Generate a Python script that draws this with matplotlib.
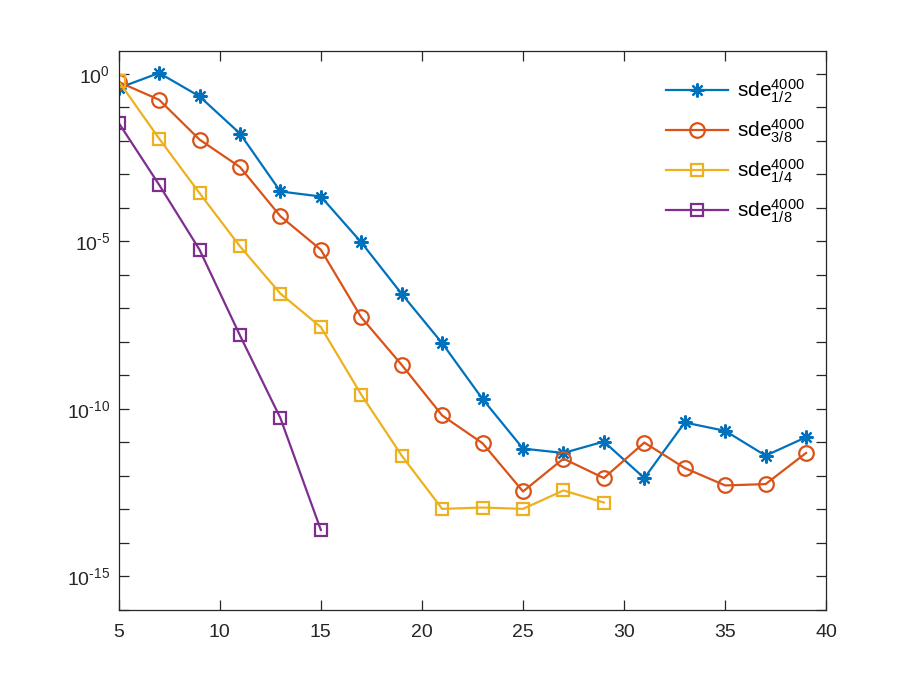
import matplotlib
matplotlib.use('Agg')
import matplotlib.pyplot as plt, numpy as np
from matplotlib.ticker import FixedLocator, NullFormatter

plt.rcParams['font.family'] = ['Liberation Sans', 'DejaVu Sans']
plt.rcParams['mathtext.fontset'] = 'custom'
plt.rcParams['mathtext.rm'] = 'Liberation Sans'
plt.rcParams['mathtext.it'] = 'Liberation Sans'
plt.rcParams['mathtext.default'] = 'regular'

# exponents (log10 of error)
x_half = [5,7,9,11,13,15,17,19,21,23,25,27,29,31,33,35,37,39]
e_half = [-0.42,0.03,-0.67,-1.78,-3.51,-3.66,-5.03,-6.57,-8.04,-9.71,
          -11.19,-11.32,-10.98,-12.07,-10.41,-10.66,-11.40,-10.85]
x_38 = [5,7,9,11,13,15,17,19,21,23,25,27,29,31,33,35,37,39]
e_38 = [-0.24,-0.77,-1.96,-2.78,-4.25,-5.25,-7.27,-8.69,-10.20,-11.03,
        -12.47,-11.49,-12.07,-11.01,-11.77,-12.29,-12.25,-11.32]
x_quarter = [5,7,9,11,13,15,17,19,21,23,25,27,29]
e_quarter = [-0.22,-1.93,-3.56,-5.15,-6.56,-7.56,-9.58,-11.40,-12.99,-12.95,-12.99,-12.44,-12.80]
x_eighth = [5,7,9,11,13,15]
e_eighth = [-1.46,-3.31,-5.25,-7.81,-10.28,-13.62]

labels = [r'sde$^{4000}_{1/2}$', r'sde$^{4000}_{3/8}$', r'sde$^{4000}_{1/4}$', r'sde$^{4000}_{1/8}$']
colors = ['#0072BD', '#D95319', '#EDB120', '#7E2F8E']
ytick_vals = [1e-15, 1e-10, 1e-5, 1e0]
ytick_labels = [r'$10^{\text{-15}}$', r'$10^{\text{-10}}$', r'$10^{\text{-5}}$', r'$10^{0}$']

fig = plt.figure(figsize=(9.13, 6.85), dpi=100)
ax = fig.add_axes([0.13, 0.11, 0.775, 0.815])

ax.semilogy(x_half, 10.0**np.array(e_half), '-', color=colors[0], lw=1.6,
            marker=(8, 2, 0), ms=10, mew=1.6, label=labels[0])
ax.semilogy(x_38, 10.0**np.array(e_38), '-', color=colors[1], lw=1.6,
            marker='o', ms=10.5, mfc='none', mew=1.6, label=labels[1])
ax.semilogy(x_quarter, 10.0**np.array(e_quarter), '-', color=colors[2], lw=1.6,
            marker='s', ms=9, mfc='none', mew=1.6, label=labels[2])
ax.semilogy(x_eighth, 10.0**np.array(e_eighth), '-', color=colors[3], lw=1.6,
            marker='s', ms=9, mfc='none', mew=1.6, label=labels[3])

ax.set_xlim(5, 40)
ax.set_ylim(1e-16, 10**0.675)
ax.set_xticks(np.arange(5, 41, 5))
ax.yaxis.set_major_locator(FixedLocator(ytick_vals))
ax.yaxis.set_minor_locator(FixedLocator([10.0**k for k in range(-16, 1)]))
ax.yaxis.set_minor_formatter(NullFormatter())
ax.set_yticklabels(ytick_labels)

for s in ax.spines.values():
    s.set_color('#262626')
    s.set_linewidth(0.9)
ax.tick_params(which='both', direction='in', top=True, right=True, colors='#262626',
               labelsize=14, width=0.9, length=7)
ax.tick_params(axis='x', pad=10)
ax.tick_params(axis='y', pad=6)

leg = ax.legend(loc='upper right', frameon=False, fontsize=15, handlelength=3.0,
                labelspacing=0.62, borderaxespad=0.3, bbox_to_anchor=(0.99, 0.98),
                handletextpad=0.4)

fig.savefig('out.png', dpi=100)
